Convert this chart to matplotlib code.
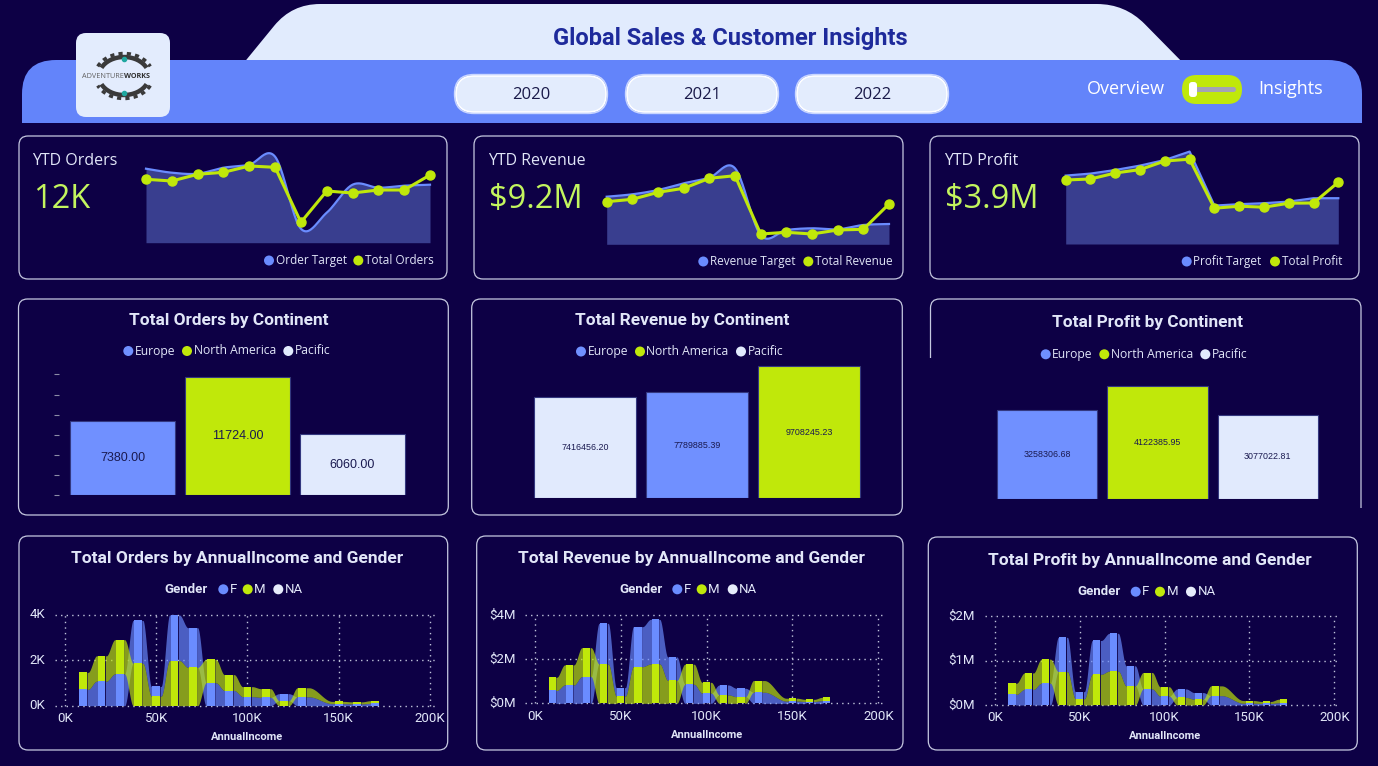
import numpy as np
import matplotlib
matplotlib.use("Agg")
import matplotlib.pyplot as plt
from matplotlib.patches import FancyBboxPatch, PathPatch, Arc, Circle
from matplotlib.path import Path

# ---------------- data ----------------
kpi_titles = ["YTD Orders", "YTD Revenue", "YTD Profit"]
kpi_values = ["12K", "$9.2M", "$3.9M"]
months = np.arange(12)
orders_total = [1268, 1234, 1368, 1408, 1534, 1508, 408, 1034, 994, 1054, 1054, 1354]
orders_target = [1480, 1400, 1380, 1500, 1560, 1720, 280, 600, 1160, 1100, 1140, 1160]
revenue_total = [426, 450, 520, 560, 660, 686, 103, 120, 103, 143, 150, 403]
revenue_target = [476, 500, 543, 610, 666, 760, 93, 143, 160, 150, 193, 203]
profit_total = [320, 325, 355, 372, 415, 424, 179, 189, 184, 204, 205, 309]
profit_target = [342, 352, 370, 392, 420, 462, 192, 199, 204, 212, 229, 229]

orders_cont = ["Europe", "North America", "Pacific"]
orders_by_cont = [7380.00, 11724.00, 6060.00]
revenue_cont = ["Pacific", "Europe", "North America"]
revenue_by_cont = [7416456.20, 7789885.39, 9708245.23]
profit_cont = ["Europe", "North America", "Pacific"]
profit_by_cont = [3258306.68, 4122385.95, 3077022.81]

income = [10000, 20000, 30000, 40000, 50000, 60000, 70000, 80000, 90000,
          100000, 110000, 120000, 130000, 150000, 160000, 170000]
orders_f = [720, 1080, 1400, 1890, 430, 2010, 1750, 1010, 670, 400, 370, 310, 390, 90, 80, 100]
orders_m = [750, 1120, 1510, 1870, 420, 1990, 1690, 1030, 700, 440, 380, 220, 400, 100, 90, 120]
revenue_f = [0.58, 0.83, 1.21, 1.84, 0.38, 1.81, 2.02, 1.06, 0.86, 0.46, 0.45, 0.38, 0.50, 0.10, 0.08, 0.12]
revenue_m = [0.60, 0.91, 1.31, 1.78, 0.33, 1.66, 1.78, 1.04, 0.91, 0.49, 0.38, 0.30, 0.53, 0.13, 0.10, 0.15]
profit_f = [0.24, 0.35, 0.49, 0.77, 0.16, 0.76, 0.85, 0.45, 0.36, 0.20, 0.19, 0.15, 0.21, 0.04, 0.035, 0.05]
profit_m = [0.25, 0.37, 0.54, 0.75, 0.14, 0.69, 0.76, 0.43, 0.37, 0.21, 0.17, 0.13, 0.22, 0.06, 0.045, 0.08]

years = ["2020", "2021", "2022"]

# ---------------- style ----------------
W, H = 1378, 766
BG = "#0D0045"
LIGHT = "#E1EBFD"
BAND = "#6384FA"
CARD_EDGE = "#C5C8E0"
TXT = "#E1E6F8"
LIME = "#C0E80A"
BLUE = "#6A8CFF"
EURO = "#7090FF"
PAC = "#E1EAFD"
FILL = "#393E8F"
VAL = "#C3F55E"
SEG = ["Open Sans", "DejaVu Sans"]
DIN = ["Roboto", "DejaVu Sans"]
cont_colors = {"Europe": EURO, "North America": LIME, "Pacific": PAC}

fig = plt.figure(figsize=(W / 100, H / 100), dpi=100)
fig.patch.set_facecolor(BG)
bg = fig.add_axes([0, 0, 1, 1])
bg.set_xlim(0, W)
bg.set_ylim(H, 0)
bg.axis("off")
bg.set_zorder(0)


def rounded_path(pts, radii, closed=True):
    pts = np.asarray(pts, float)
    n = len(pts)
    verts, codes = [], []
    for i in range(n):
        p1 = pts[i]
        r = radii[i]
        first = (i == 0)
        if r == 0 or (not closed and (i == 0 or i == n - 1)):
            verts.append(p1)
            codes.append(Path.MOVETO if first else Path.LINETO)
            continue
        p0 = pts[i - 1]
        p2 = pts[(i + 1) % n]
        v1 = (p0 - p1) / np.linalg.norm(p0 - p1)
        v2 = (p2 - p1) / np.linalg.norm(p2 - p1)
        a = p1 + v1 * r
        b = p1 + v2 * r
        verts += [a, p1, b]
        codes += [Path.MOVETO if first else Path.LINETO, Path.CURVE3, Path.CURVE3]
    if closed:
        verts.append(verts[0])
        codes.append(Path.CLOSEPOLY)
    return Path(verts, codes)


def card(x0, y0, x1, y1, r=9):
    bg.add_patch(FancyBboxPatch((x0, y0), x1 - x0, y1 - y0,
                                boxstyle=f"round,pad=0,rounding_size={r}",
                                fc="none", ec=CARD_EDGE, lw=0.9))


class PxMap:
    def __init__(self, xa, xva, xb, xvb, ya, yva, yb, yvb):
        self.xa, self.xva, self.xb, self.xvb = xa, xva, xb, xvb
        self.ya, self.yva, self.yb, self.yvb = ya, yva, yb, yvb

    def x(self, v):
        return self.xa + (v - self.xva) * (self.xb - self.xa) / (self.xvb - self.xva)

    def y(self, v):
        return self.ya + (v - self.yva) * (self.yb - self.ya) / (self.yvb - self.yva)

    def axes(self, xlim, ylim):
        x0, x1 = self.x(xlim[0]), self.x(xlim[1])
        ytop, ybot = self.y(ylim[1]), self.y(ylim[0])
        ax = fig.add_axes([x0 / W, 1 - ybot / H, (x1 - x0) / W, (ybot - ytop) / H])
        ax.set_xlim(*xlim)
        ax.set_ylim(*ylim)
        ax.set_facecolor("none")
        ax.set_zorder(2)
        return ax


def legend_items(items, y, fs, family=SEG, r=5):
    for cx, color, label in items:
        bg.add_patch(Circle((cx, y), r, color=color, lw=0))
        bg.text(cx + r + 1.5, y, label, color=TXT, fontsize=fs, family=family,
                ha="left", va="center")


def catmull(y, n=24):
    y = np.asarray(y, float)
    P = np.concatenate([[2 * y[0] - y[1]], y, [2 * y[-1] - y[-2]]])
    xs, ys = [], []
    for i in range(len(y) - 1):
        t = np.linspace(0, 1, n, endpoint=False)
        p0, p1, p2, p3 = P[i], P[i + 1], P[i + 2], P[i + 3]
        v = 0.5 * (2 * p1 + (-p0 + p2) * t + (2 * p0 - 5 * p1 + 4 * p2 - p3) * t ** 2
                   + (-p0 + 3 * p1 - 3 * p2 + p3) * t ** 3)
        xs.append(i + t)
        ys.append(v)
    xs.append([len(y) - 1])
    ys.append([y[-1]])
    return np.concatenate(xs), np.concatenate(ys)


# ---------------- header ----------------
bg.add_patch(PathPatch(rounded_path([(238, 70), (292, 4), (1125, 4), (1190, 70)],
                                    [0, 28, 28, 0]), fc=LIGHT, ec="none"))
bg.add_patch(PathPatch(rounded_path([(22, 123), (22, 60), (1362, 60), (1362, 123)],
                                    [0, 34, 34, 0]), fc=BAND, ec="none"))
bg.text(730, 38, "Global Sales & Customer Insights", color="#1E2A9B", fontsize=17,
        family=DIN, fontweight="bold", ha="center", va="center")

# logo
bg.add_patch(FancyBboxPatch((76, 33), 94, 84, boxstyle="round,pad=0,rounding_size=10",
                            fc="#E3ECFD", ec="none"))
for t1, t2 in [(200, 340), (20, 160)]:
    bg.add_patch(Arc((124, 76), 50, 38, theta1=t1, theta2=t2, color="#3A3A3A", lw=3.2))
    bg.add_patch(Arc((124, 76), 58, 45, theta1=t1, theta2=t2, color="#3A3A3A", lw=2.5,
                     linestyle=(0, (1.2, 1.2))))
bg.plot([124], [59], "o", color="#1FA8A0", ms=3)
bg.plot([124], [93], "o", color="#1FA8A0", ms=3)
bg.text(124, 76, "ADVENTURE", color="#606060", fontsize=5.2, family=SEG,
        ha="right", va="center")
bg.text(124, 76, "WORKS", color="#303030", fontsize=5.2, family=SEG, fontweight="bold",
        ha="left", va="center")

# year buttons
for yr, x0 in zip(years, [456, 627, 797]):
    bg.add_patch(FancyBboxPatch((x0 - 1.5, 74.5), 153, 39,
                                boxstyle="round,pad=0,rounding_size=19.5",
                                fc="none", ec="#C9D6FF", lw=1.0))
    bg.add_patch(FancyBboxPatch((x0, 76), 150, 36, boxstyle="round,pad=0,rounding_size=18",
                                fc="#E3ECFD", ec="#FFFFFF", lw=1.2))
    bg.text(x0 + 75, 95, yr, color="#1A1A4A", fontsize=12, family=SEG,
            ha="center", va="center")

# toggle
bg.text(1126, 89, "Overview", color="white", fontsize=13, family=SEG, ha="center", va="center")
bg.text(1291, 89, "Insights", color="white", fontsize=13, family=SEG, ha="center", va="center")
bg.add_patch(FancyBboxPatch((1182, 75), 60, 29, boxstyle="round,pad=0,rounding_size=14.5",
                            fc=LIME, ec="none"))
bg.add_patch(FancyBboxPatch((1192, 87), 44, 5, boxstyle="round,pad=0,rounding_size=2.5",
                            fc="#A3A3B5", ec="none"))
bg.add_patch(FancyBboxPatch((1189, 82), 8, 15, boxstyle="round,pad=0,rounding_size=3",
                            fc="white", ec="none"))

# ---------------- KPI cards ----------------
kpi_cards = [(19, 136, 447, 279), (474, 136, 903, 279), (930, 136, 1359, 279)]
for (x0, y0, x1, y1) in kpi_cards:
    card(x0, y0, x1, y1)

kpi_title_x = [32, 488, 944]
for tx, t, v in zip(kpi_title_x, kpi_titles, kpi_values):
    bg.text(tx, 161, t, color=TXT, fontsize=11.5, family=SEG, ha="left", va="center")
    bg.text(tx + 1, 199, v, color=VAL, fontsize=23.5, family=SEG, ha="left", va="center")

spark = [
    (PxMap(146, 0, 430, 11, 242.7, 0, 192.7, 1000), 1954, orders_total, orders_target, True),
    (PxMap(606.7, 0, 889, 11, 244.3, 0, 234.3, 100), 993, revenue_total, revenue_target, True),
    (PxMap(1065.7, 0, 1338.3, 11, 244, 0, 224, 100), 495, profit_total, profit_target, False),
]
for pm, ytop, tot, tgt, smooth in spark:
    ax = pm.axes((0, 11), (0, ytop))
    ax.axis("off")
    if smooth:
        xs, ys = catmull(tgt)
    else:
        xs, ys = months.astype(float), np.asarray(tgt, float)
    ax.fill_between(xs, 0, ys, color=FILL, lw=0, clip_on=False)
    ax.plot(xs, ys, color=BLUE, lw=1.6, clip_on=False, solid_joinstyle="round")
    ax.plot(months, tot, color=LIME, lw=2.2, marker="o", ms=6.5, clip_on=False,
            solid_joinstyle="round")

legend_items([(269, BLUE, "Order Target"), (358.3, LIME, "Total Orders")], 260.5, 8.5)
legend_items([(703.3, BLUE, "Revenue Target"), (808.3, LIME, "Total Revenue")], 261.5, 8.5)
legend_items([(1186.7, BLUE, "Profit Target"), (1275, LIME, "Total Profit")], 261.5, 8.5)

# ---------------- continent cards ----------------
card(18.5, 299, 448.3, 515)
card(471.7, 299, 902.3, 515)
p3 = Path([(930.5, 358), (930.5, 308), (930.5, 299), (939.5, 299), (1352, 299),
           (1361, 299), (1361, 308), (1361, 508)],
          [Path.MOVETO, Path.LINETO, Path.CURVE3, Path.CURVE3, Path.LINETO,
           Path.CURVE3, Path.CURVE3, Path.LINETO])
bg.add_patch(PathPatch(p3, fc="none", ec=CARD_EDGE, lw=0.9))

bg.text(229, 320, "Total Orders by Continent", color=TXT, fontsize=12.4, family=DIN,
        fontweight="bold", ha="center", va="center")
bg.text(682, 320, "Total Revenue by Continent", color=TXT, fontsize=12.4, family=DIN,
        fontweight="bold", ha="center", va="center")
bg.text(1147, 323, "Total Profit by Continent", color=TXT, fontsize=12.4, family=DIN,
        fontweight="bold", ha="center", va="center")

def cont_legend(xs, y):
    legend_items([(xs[0], EURO, "Europe"), (xs[1], LIME, "North America"),
                  (xs[2], PAC, "Pacific")], y, 8.7)

cont_legend([128.3, 187, 288.3], 351)
cont_legend([581, 640, 741], 351.5)
cont_legend([1045.7, 1104.3, 1205.3], 354.3)

cont_specs = [
    (PxMap(122.5, 0, 237.5, 1, 495.3, 0, 374.5, 12000), (-0.55, 2.6), (0, 12000),
     orders_cont, orders_by_cont, 9.0, True),
    (PxMap(585, 0, 697.2, 1, 498.3, 0, 366, 9708245.23), (-0.6, 2.6), (0, 1.0e7),
     revenue_cont, revenue_by_cont, 6.4, False),
    (PxMap(1047.2, 0, 1157.5, 1, 498.7, 0, 386, 4122385.95), (-0.6, 2.6), (0, 4.4e6),
     profit_cont, profit_by_cont, 6.4, False),
]
for pm, xl, yl, cats, vals, fs, ticks in cont_specs:
    ax = pm.axes(xl, yl)
    for s in ax.spines.values():
        s.set_visible(False)
    xpos = np.arange(len(cats))
    ax.bar(xpos, vals, width=0.91, color=[cont_colors[c] for c in cats],
           edgecolor="#34387F", lw=0.8)
    for xp, v in zip(xpos, vals):
        ax.text(xp, v / 2, f"{v:.2f}", color="#1A1A50", fontsize=fs,
                family=["Liberation Sans", "DejaVu Sans"], ha="center", va="center")
    ax.set_xticks([])
    if ticks:
        ax.set_yticks(np.arange(0, 12001, 2000))
        ax.tick_params(axis="y", length=3.6, width=0.8, color="#8C8CA6", labelleft=False)
    else:
        ax.set_yticks([])

# ---------------- ribbon charts ----------------
card(19, 536, 447.7, 750)
card(476.7, 536, 903, 750)
card(928.3, 537, 1357.3, 750)


def ribbon_chart(ax, xs, series, colors, bar_w):
    vals = np.array(series, float)
    S, n = vals.shape
    bot = np.zeros_like(vals)
    top = np.zeros_like(vals)
    for j in range(n):
        order = np.argsort(vals[:, j], kind="stable")
        cum = 0.0
        for s in order:
            bot[s, j] = cum
            cum += vals[s, j]
            top[s, j] = cum
    t = np.linspace(0, 1, 100)
    u = np.clip((t - 0.1) / 0.8, 0, 1)
    sm = u * u * (3 - 2 * u)
    for s in range(S):
        for j in range(n - 1):
            x0 = xs[j] + bar_w / 2
            x1 = xs[j + 1] - bar_w / 2
            xx = x0 + (x1 - x0) * t
            lo = bot[s, j] + (bot[s, j + 1] - bot[s, j]) * sm
            hi = top[s, j] + (top[s, j + 1] - top[s, j]) * sm
            ax.fill_between(xx, lo, hi, color=colors[s], alpha=0.68, lw=0, zorder=2)
    for s in range(S):
        ax.bar(xs, top[s] - bot[s], bottom=bot[s], width=bar_w, color=colors[s],
               lw=0, zorder=3)


rib_specs = [
    dict(pm=PxMap(65, 0, 430, 200000, 705.7, 0, 615, 4000), xl=(-5500, 203800),
         ymax=4000, f=orders_f, m=orders_m, ylab=["0K", "2K", "4K"],
         ylab_x=45, xlab_y=718, title="Total Orders by AnnualIncome and Gender",
         tx=237.5, ty=558, leg=(164.3, 223.3, 247.7, 278.3), legy=589.3, axy=736.7),
    dict(pm=PxMap(535, 0, 878.3, 200000, 703.3, 0, 615, 4), xl=(-5800, 203900),
         ymax=4, f=revenue_f, m=revenue_m, ylab=["$0M", "$2M", "$4M"],
         ylab_x=516, xlab_y=716.7, title="Total Revenue by AnnualIncome and Gender",
         tx=691, ty=558, leg=(619.3, 677.3, 701.7, 732.7), legy=589.3, axy=735),
    dict(pm=PxMap(995, 0, 1334.3, 200000, 705, 0, 616, 2), xl=(-5900, 202200),
         ymax=2, f=profit_f, m=profit_m, ylab=["$0M", "$1M", "$2M"],
         ylab_x=975, xlab_y=717.7, title="Total Profit by AnnualIncome and Gender",
         tx=1150, ty=560, leg=(1077.7, 1135.7, 1160, 1191), legy=591.7, axy=736),
]
xt = [0, 50000, 100000, 150000, 200000]
xt_lab = ["0K", "50K", "100K", "150K", "200K"]
for sp in rib_specs:
    pm = sp["pm"]
    ax = pm.axes(sp["xl"], (0, sp["ymax"] * 1.0))
    ax.axis("off")
    yt = [0, sp["ymax"] / 2, sp["ymax"]]
    ax.hlines(yt, sp["xl"][0], sp["xl"][1], colors="#BFC3DA", lw=1.0,
              linestyles=(0, (1, 3)), zorder=1, clip_on=False)
    ax.vlines(xt, 0, sp["ymax"], colors="#BFC3DA", lw=1.0, linestyles=(0, (1, 3)),
              zorder=1, clip_on=False)
    ribbon_chart(ax, np.array(income, float), [sp["f"], sp["m"]], [BLUE, LIME], 4200)
    for c in ax.collections + ax.patches:
        c.set_clip_on(False)
    for v, lab in zip(yt, sp["ylab"]):
        bg.text(sp["ylab_x"], pm.y(v), lab, color=TXT, fontsize=9.5, family=DIN,
                ha="right", va="center")
    for v, lab in zip(xt, xt_lab):
        bg.text(pm.x(v), sp["xlab_y"], lab, color=TXT, fontsize=9.5, family=DIN,
                ha="center", va="center")
    bg.text(pm.x(100000), sp["axy"], "AnnualIncome", color=TXT, fontsize=8, family=DIN,
            fontweight="bold", ha="center", va="center")
    bg.text(sp["tx"], sp["ty"], sp["title"], color=TXT, fontsize=12.5, family=DIN,
            fontweight="bold", ha="center", va="center")
    gx, fx, mx, nx = sp["leg"]
    bg.text(gx, sp["legy"], "Gender", color=TXT, fontsize=9.5, family=DIN,
            fontweight="bold", ha="left", va="center")
    legend_items([(fx, BLUE, "F"), (mx, LIME, "M"), (nx, "#E6ECFB", "NA")], sp["legy"],
                 9.5, family=DIN)

fig.savefig("out.png", dpi=100, facecolor=BG)
